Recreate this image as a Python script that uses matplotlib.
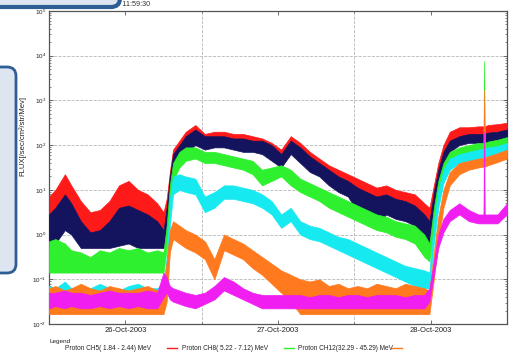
import numpy as np
import matplotlib
matplotlib.use("Agg")
import matplotlib.pyplot as plt
import matplotlib.dates as mdates
from matplotlib.patches import FancyBboxPatch
from matplotlib.lines import Line2D
from matplotlib.transforms import IdentityTransform

plt.rcParams['font.family'] = ['Liberation Sans', 'DejaVu Sans']

W, H = 518, 352
START = np.datetime64('2003-10-25T12:00')

# hours after 25-Oct-2003 12:00
HOURS = [0, 1, 2.5, 3.5, 5, 6.5, 8, 9.5, 11, 12.5,
         14, 15.5, 17, 18, 18.5, 19, 19.5, 20.5, 21.5, 23,
         24.5, 26, 27.5, 29, 30.5, 32, 33.5, 35, 36.5, 38,
         39.5, 41, 42.5, 44, 45.5, 47, 48.5, 50, 51.5, 53,
         54.5, 56, 57.5, 59, 59.8, 60.5, 61.2, 62, 63, 64.5,
         66, 67.5, 68.3, 68.4, 68.5, 69, 70.5, 72]

# log10 of flux, lower / upper edge of each noisy trace
RED_LO = [0.45, 0.5, 0.75, 0.6, 0.15, -0.05, -0.05, 0.1, 0.45, 0.5,
          0.35, 0.2, 0.1, 0.0, 0.3, 1.0, 1.5, 1.7, 1.9, 2.05,
          1.95, 2.0, 2.0, 1.95, 1.9, 1.9, 1.85, 1.75, 1.6, 1.85,
          1.7, 1.5, 1.4, 1.2, 1.1, 1.0, 0.9, 0.75, 0.7, 0.75,
          0.65, 0.6, 0.5, 0.25, 0.2, 0.6, 1.2, 1.7, 2.05, 2.15,
          2.2, 2.2, 2.22, 2.22, 2.22, 2.22, 2.25, 2.3]
RED_HI = [0.85, 1.0, 1.35, 1.1, 0.75, 0.5, 0.55, 0.75, 1.1, 1.2,
          1.0, 0.9, 0.7, 0.5, 0.8, 1.4, 1.9, 2.1, 2.3, 2.45,
          2.25, 2.3, 2.3, 2.25, 2.25, 2.2, 2.15, 2.05, 1.9, 2.2,
          2.05, 1.85, 1.7, 1.55, 1.45, 1.35, 1.25, 1.15, 1.05, 1.1,
          1.0, 0.95, 0.9, 0.7, 0.6, 1.1, 1.6, 2.0, 2.3, 2.4,
          2.4, 2.42, 2.42, 2.42, 2.42, 2.45, 2.47, 2.5]

NAVY_LO = [-0.3, -0.2, 0.1, 0.0, -0.3, -0.3, -0.3, -0.3, -0.25, -0.2,
           -0.3, -0.3, -0.3, -0.3, 0.1, 0.9, 1.4, 1.65, 1.85, 2.0,
           1.9, 1.95, 1.95, 1.9, 1.85, 1.85, 1.8, 1.65, 1.5, 1.8,
           1.6, 1.4, 1.3, 1.1, 0.95, 0.85, 0.5, 0.55, 0.2, 0.45,
           0.35, 0.3, 0.2, -0.1, -0.2, 0.45, 1.05, 1.55, 1.85, 2.0,
           2.05, 2.05, 2.05, 2.05, 2.05, 2.08, 2.12, 2.18]
NAVY_HI = [0.45, 0.6, 0.9, 0.7, 0.3, 0.05, 0.1, 0.3, 0.6, 0.65,
           0.55, 0.45, 0.3, 0.1, 0.6, 1.3, 1.8, 2.0, 2.2, 2.35,
           2.2, 2.2, 2.2, 2.15, 2.15, 2.1, 2.1, 2.0, 1.8, 2.1,
           1.95, 1.75, 1.6, 1.45, 1.3, 1.2, 1.05, 0.95, 0.85, 0.9,
           0.8, 0.75, 0.65, 0.45, 0.3, 0.95, 1.45, 1.85, 2.1, 2.2,
           2.25, 2.25, 2.25, 2.25, 2.25, 2.28, 2.3, 2.35]

GREEN_LO = [-0.85, -0.85, -0.85, -0.85, -0.85, -0.85, -0.85, -0.85, -0.85, -0.85,
            -0.85, -0.85, -0.85, -0.85, -0.3, 0.6, 1.2, 1.5, 1.65, 1.7,
            1.6, 1.6, 1.55, 1.5, 1.45, 1.35, 1.1, 1.2, 1.3, 1.1,
            0.95, 0.85, 0.75, 0.6, 0.5, 0.4, 0.3, 0.2, 0.1, 0.05,
            -0.05, -0.1, -0.2, -0.5, -0.6, 0.1, 0.8, 1.3, 1.6, 1.75,
            1.8, 1.85, 1.85, 1.85, 1.85, 1.9, 1.95, 2.0]
GREEN_HI = [-0.15, -0.1, -0.2, -0.35, -0.4, -0.5, -0.35, -0.4, -0.3, -0.35,
            -0.3, -0.4, -0.35, -0.4, 0.2, 1.1, 1.6, 1.85, 1.95, 1.95,
            1.85, 1.85, 1.8, 1.75, 1.7, 1.65, 1.45, 1.5, 1.55, 1.45,
            1.25, 1.15, 1.05, 0.95, 0.85, 0.75, 0.65, 0.55, 0.45, 0.4,
            0.3, 0.25, 0.2, 0.0, -0.2, 0.6, 1.2, 1.6, 1.85, 1.95,
            2.0, 2.05, 2.05, 3.88, 2.05, 2.08, 2.12, 2.18]

CYAN_LO = [-1.5, -1.5, -1.5, -1.5, -1.5, -1.5, -1.5, -1.5, -1.5, -1.5,
           -1.5, -1.5, -1.5, -1.5, -1.0, 0.2, 0.9, 1.0, 0.95, 0.9,
           0.5, 0.6, 0.8, 0.8, 0.75, 0.7, 0.6, 0.45, 0.15, 0.3,
           0.0, -0.1, -0.15, -0.25, -0.35, -0.45, -0.55, -0.65, -0.75, -0.85,
           -0.95, -1.05, -1.15, -1.2, -1.2, -0.2, 0.6, 1.15, 1.45, 1.6,
           1.65, 1.7, 1.72, 1.72, 1.72, 1.75, 1.8, 1.85]
CYAN_HI = [-1.15, -1.2, -1.05, -1.2, -1.25, -1.2, -1.1, -1.2, -1.25, -1.15,
           -1.1, -1.2, -1.2, -1.1, -0.5, 0.8, 1.3, 1.35, 1.3, 1.25,
           0.85, 0.95, 1.1, 1.1, 1.05, 1.0, 0.9, 0.75, 0.45, 0.6,
           0.3, 0.2, 0.15, 0.05, -0.05, -0.1, -0.2, -0.3, -0.4, -0.5,
           -0.6, -0.7, -0.75, -0.8, -0.85, 0.3, 1.0, 1.45, 1.7, 1.8,
           1.85, 1.9, 1.92, 1.92, 1.92, 1.95, 1.98, 2.05]

ORANGE_LO = [-1.78, -1.78, -1.78, -1.78, -1.78, -1.78, -1.78, -1.78, -1.78, -1.78,
             -1.78, -1.78, -1.78, -1.78, -1.5, -0.4, -0.1, -0.2, -0.3, -0.4,
             -0.55, -1.0, -0.35, -0.45, -0.55, -0.75, -0.9, -1.1, -1.3, -1.5,
             -1.78, -1.78, -1.78, -1.78, -1.78, -1.78, -1.78, -1.78, -1.78, -1.78,
             -1.78, -1.78, -1.78, -1.78, -1.78, -1.0, -0.2, 0.6, 1.1, 1.35,
             1.45, 1.5, 1.52, 1.52, 1.52, 1.55, 1.62, 1.7]
ORANGE_HI = [-1.2, -1.15, -1.25, -1.2, -1.1, -1.2, -1.25, -1.15, -1.2, -1.25,
             -1.2, -1.15, -1.25, -1.25, -0.6, 0.1, 0.3, 0.2, 0.1, 0.0,
             -0.15, -0.55, 0.0, -0.1, -0.2, -0.35, -0.5, -0.65, -0.8, -0.9,
             -1.0, -1.05, -1.0, -1.15, -1.1, -1.2, -1.15, -1.2, -1.1, -1.15,
             -1.2, -1.1, -1.15, -1.2, -1.25, -0.4, 0.4, 1.0, 1.4, 1.6,
             1.65, 1.7, 1.72, 3.23, 1.72, 1.75, 1.82, 1.9]

MAGENTA_LO = [-1.65, -1.6, -1.65, -1.6, -1.65, -1.65, -1.6, -1.65, -1.6, -1.65,
              -1.6, -1.65, -1.65, -1.4, -1.3, -1.45, -1.5, -1.55, -1.6, -1.65,
              -1.55, -1.45, -1.25, -1.35, -1.45, -1.55, -1.65, -1.65, -1.65, -1.65,
              -1.65, -1.65, -1.65, -1.65, -1.65, -1.65, -1.65, -1.65, -1.65, -1.65,
              -1.65, -1.65, -1.65, -1.65, -1.5, -0.9, -0.3, 0.05, 0.3, 0.45,
              0.3, 0.25, 0.25, 0.25, 0.25, 0.25, 0.25, 0.45]
MAGENTA_HI = [-1.3, -1.3, -1.25, -1.3, -1.3, -1.35, -1.3, -1.25, -1.3, -1.3,
              -1.3, -1.25, -1.3, -0.85, -0.95, -1.15, -1.2, -1.25, -1.3, -1.35,
              -1.3, -1.15, -0.95, -1.05, -1.2, -1.3, -1.35, -1.35, -1.35, -1.35,
              -1.35, -1.4, -1.35, -1.35, -1.4, -1.35, -1.35, -1.4, -1.35, -1.35,
              -1.35, -1.4, -1.35, -1.35, -1.2, -0.6, 0.0, 0.35, 0.55, 0.7,
              0.55, 0.45, 0.45, 2.3, 0.45, 0.45, 0.45, 0.7]

LEGEND_LABELS = ['Proton CH5( 1.84 - 2.44) MeV',
                 'Proton CH8( 5.22 - 7.12) MeV',
                 'Proton CH12(32.29 - 45.29) MeV']

# drawing order: later traces sit on top
traces = [
    (RED_LO, RED_HI, '#ff1a1a'),
    (NAVY_LO, NAVY_HI, '#14145e'),
    (GREEN_LO, GREEN_HI, '#2ef02e'),
    (CYAN_LO, CYAN_HI, '#16eaf0'),
    (ORANGE_LO, ORANGE_HI, '#ff7a1e'),
    (MAGENTA_LO, MAGENTA_HI, '#f01ef0'),
]

times = START + (np.array(HOURS) * 60).astype('timedelta64[m]')

fig = plt.figure(figsize=(W / 100, H / 100), dpi=100)
fig.patch.set_facecolor('white')
ax = fig.add_axes([49 / W, 1 - 324 / H, (507 - 49) / W, (324 - 11) / H])

for i, (lo, hi, col) in enumerate(traces):
    ax.fill_between(times, 10 ** np.array(lo), 10 ** np.array(hi),
                    color=col, lw=0.5, zorder=2 + i)

ax.set_yscale('log')
ax.set_ylim(1e-2, 1e5)
ax.set_xlim(START, START + np.timedelta64(72, 'h'))

ax.xaxis.set_major_locator(mdates.DayLocator())
ax.xaxis.set_major_formatter(mdates.DateFormatter('%d-%b-%Y'))
ax.xaxis.set_minor_locator(mdates.HourLocator(byhour=[12]))
ax.grid(axis='x', which='minor', ls='--', color='#b8b8b8', lw=0.6)
ax.grid(axis='y', which='major', ls='--', color='#b8b8b8', lw=0.6)
ax.set_axisbelow(True)

ax.tick_params(which='both', direction='in', top=True, right=True,
               colors='#555555', labelcolor='#222222')
ax.tick_params(which='major', length=3, width=0.6)
ax.tick_params(which='minor', length=1.6, width=0.5)
ax.tick_params(axis='x', labelsize=5.5, pad=2)
ax.tick_params(axis='y', labelsize=4.5, pad=2)
for s in ax.spines.values():
    s.set_color('#555555')
    s.set_linewidth(0.9)

ax.set_ylabel('FLUX[/sec/cm²/str/Mev]', fontsize=5.5, color='#222222')
ax.yaxis.set_label_coords(-0.05, 0.6)

# header text above the axes
fig.text(150 / W, 1 - 4 / H, 'Start: 25-Oct-2003 11:59:30', fontsize=5.2,
         ha='right', va='center', color='#333333')

# legend strip under the axes
fig.text(50 / W, 1 - 341.5 / H, 'Legend', fontsize=4.6, ha='left', va='center',
         color='#222222')
leg_text_x = [65, 182, 298]
leg_line_x = [(167, 177), (284, 294), (392, 402)]
leg_y = 1 - 348 / H
for lab, tx, (x0, x1), col in zip(LEGEND_LABELS, leg_text_x, leg_line_x,
                                  ['#ff1a1a', '#2ef02e', '#ff7a1e']):
    fig.text(tx / W, leg_y, lab, fontsize=4.7, ha='left', va='center',
             color='#222222')
    fig.add_artist(Line2D([x0 / W, x1 / W], [leg_y, leg_y],
                          color=col, lw=1.0, transform=fig.transFigure))

# slide callout frames lying over the figure
for x0, y0, w, h, lw in [(-30, H - 7, 150, 40, 3.0), (-30, H - 273, 46, 206, 2.0)]:
    fig.add_artist(FancyBboxPatch((x0, y0), w, h,
                                  boxstyle='round,pad=0,rounding_size=9',
                                  transform=IdentityTransform(),
                                  facecolor='#dde5f0', edgecolor='#2f5e94',
                                  lw=lw, zorder=10))

fig.savefig('out.png', dpi=100)
